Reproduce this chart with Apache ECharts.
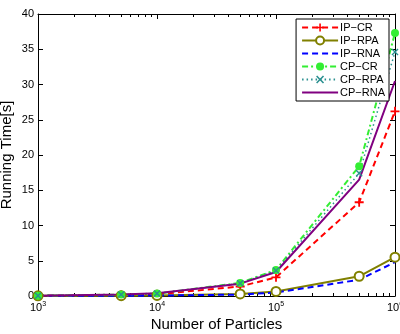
<!DOCTYPE html>
<html>
<head>
<meta charset="utf-8">
<script src="https://cdn.jsdelivr.net/npm/echarts@6/dist/echarts.min.js"></script>
<style>
html, body { margin: 0; padding: 0; background: #fff; }
#main { width: 400px; height: 334px; }
</style>
</head>
<body>
<div id="main"></div>
<script>
var particles = [1000, 5000, 10000, 50000, 100000, 500000, 1000000];
var ipCR  = [0.05, 0.15, 0.25, 1.35, 2.65, 13.3, 26.2];
var ipRPA = [0.02, 0.05, 0.08, 0.3, 0.65, 2.8, 5.5];
var ipRNA = [0.02, 0.04, 0.06, 0.2, 0.5, 2.3, 4.8];
var cpCR  = [0.05, 0.2, 0.35, 1.85, 3.7, 18.4, 37.3];
var cpRPA = [0.05, 0.2, 0.35, 1.8, 3.6, 17.4, 34.6];
var cpRNA = [0.05, 0.2, 0.4, 1.75, 3.4, 16.5, 30.5];
var majorTicks = [1000, 10000, 100000, 1000000];
var minorTicks = [];
[1000, 10000, 100000].forEach(function (d) {
    for (var k = 2; k <= 9; k++) minorTicks.push(d * k);
});

var font = 'Liberation Sans, Arial, sans-serif';
var plus = 'path://M4,0H6V4H10V6H6V10H4V6H0V4H4Z';
var cross = 'path://M1.4,0L5,3.6L8.6,0L10,1.4L6.4,5L10,8.6L8.6,10L5,6.4L1.4,10L0,8.6L3.6,5L0,1.4Z';

function pairs(ys) {
    return particles.map(function (x, i) { return [x, ys[i]]; });
}
function xAxisCfg(pos, ticks, len, labels) {
    var major = ticks === majorTicks;
    return {
        type: 'log', logBase: 10, min: 1000, max: 1000000, position: pos,
        gridIndex: 0,
        axisLine: { show: major, onZero: false, lineStyle: { color: '#000', width: 1 } },
        axisTick: { show: true, inside: true, length: len, customValues: ticks, lineStyle: { color: '#000' } },
        axisLabel: labels ? {
            show: true, customValues: majorTicks, margin: 5, color: '#000',
            formatter: function (v) {
                return '{b|10}{s|' + Math.round(Math.log10(v)) + '}';
            },
            rich: {
                b: { fontSize: 11, fontFamily: font, color: '#000', lineHeight: 14 },
                s: { fontSize: 7, fontFamily: font, color: '#000', verticalAlign: 'top', lineHeight: 14, padding: [0, 0, 6, 0] }
            }
        } : { show: false },
        splitLine: { show: false },
        name: labels ? 'Number of Particles' : '',
        nameLocation: 'middle', nameGap: 21, nameMoveOverlap: false,
        nameTextStyle: { fontSize: 15, fontFamily: font, color: '#000' }
    };
}
function yAxisCfg(pos, labels) {
    return {
        type: 'value', min: 0, max: 40, interval: 5, position: pos,
        axisLine: { show: true, lineStyle: { color: '#000', width: 1 } },
        axisTick: { show: true, inside: true, length: 5, lineStyle: { color: '#000' } },
        axisLabel: { show: labels, fontSize: 11, fontFamily: font, color: '#000', margin: 4 },
        splitLine: { show: false },
        name: labels ? 'Running Time[s]' : '',
        nameLocation: 'middle', nameGap: 24, nameMoveOverlap: false,
        nameTextStyle: { fontSize: 15, fontFamily: font, color: '#000' }
    };
}

var myChart = echarts.init(document.getElementById('main'));
var option = {
    animation: false,
    backgroundColor: '#fff',
    grid: { left: 38, right: 5, top: 14, bottom: 38, outerBoundsMode: 'none', containLabel: false },
    legend: {
        orient: 'vertical', right: 11, top: 19,
        backgroundColor: '#fff', borderColor: '#000', borderWidth: 1,
        padding: [3, 4, 3, 5], itemGap: 2, itemWidth: 36, itemHeight: 10,
        textStyle: { fontSize: 11, fontFamily: font, color: '#000', padding: [0, 0, 0, -3] },
        data: [
            { name: 'IP\u2212CR' },
            { name: 'IP\u2212RPA' },
            { name: 'IP\u2212RNA', itemStyle: { opacity: 0 } },
            { name: 'CP\u2212CR' },
            { name: 'CP\u2212RPA' },
            { name: 'CP\u2212RNA', itemStyle: { opacity: 0 } }
        ]
    },
    xAxis: [
        xAxisCfg('bottom', majorTicks, 5, true),
        xAxisCfg('bottom', minorTicks, 3, false),
        xAxisCfg('top', majorTicks, 5, false),
        xAxisCfg('top', minorTicks, 3, false)
    ],
    yAxis: [yAxisCfg('left', true), yAxisCfg('right', false)],
    series: [
        { name: 'IP\u2212CR', type: 'line', data: pairs(ipCR), symbol: plus, symbolSize: 9,
          itemStyle: { color: '#ff0000' }, lineStyle: { color: '#ff0000', width: 2, type: [6, 4] } },
        { name: 'IP\u2212RPA', type: 'line', data: pairs(ipRPA), symbol: 'emptyCircle', symbolSize: 9,
          itemStyle: { color: '#808000', borderWidth: 2 },
          lineStyle: { color: '#808000', width: 2 } },
        { name: 'IP\u2212RNA', type: 'line', data: pairs(ipRNA), symbol: 'none',
          itemStyle: { color: '#0000ff' }, lineStyle: { color: '#0000ff', width: 2, type: [6, 4] } },
        { name: 'CP\u2212CR', type: 'line', data: pairs(cpCR), symbol: 'circle', symbolSize: 8,
          itemStyle: { color: '#33ee33' }, lineStyle: { color: '#33ee33', width: 2, type: [6, 3, 2, 3] } },
        { name: 'CP\u2212RPA', type: 'line', data: pairs(cpRPA), symbol: cross, symbolSize: 7,
          itemStyle: { color: '#2a9090' }, lineStyle: { color: '#2a9090', width: 1.5, type: [1.5, 3] } },
        { name: 'CP\u2212RNA', type: 'line', data: pairs(cpRNA), symbol: 'none',
          itemStyle: { color: '#800080' }, lineStyle: { color: '#800080', width: 2 } }
    ]
};
myChart.setOption(option);
</script>
</body>
</html>
